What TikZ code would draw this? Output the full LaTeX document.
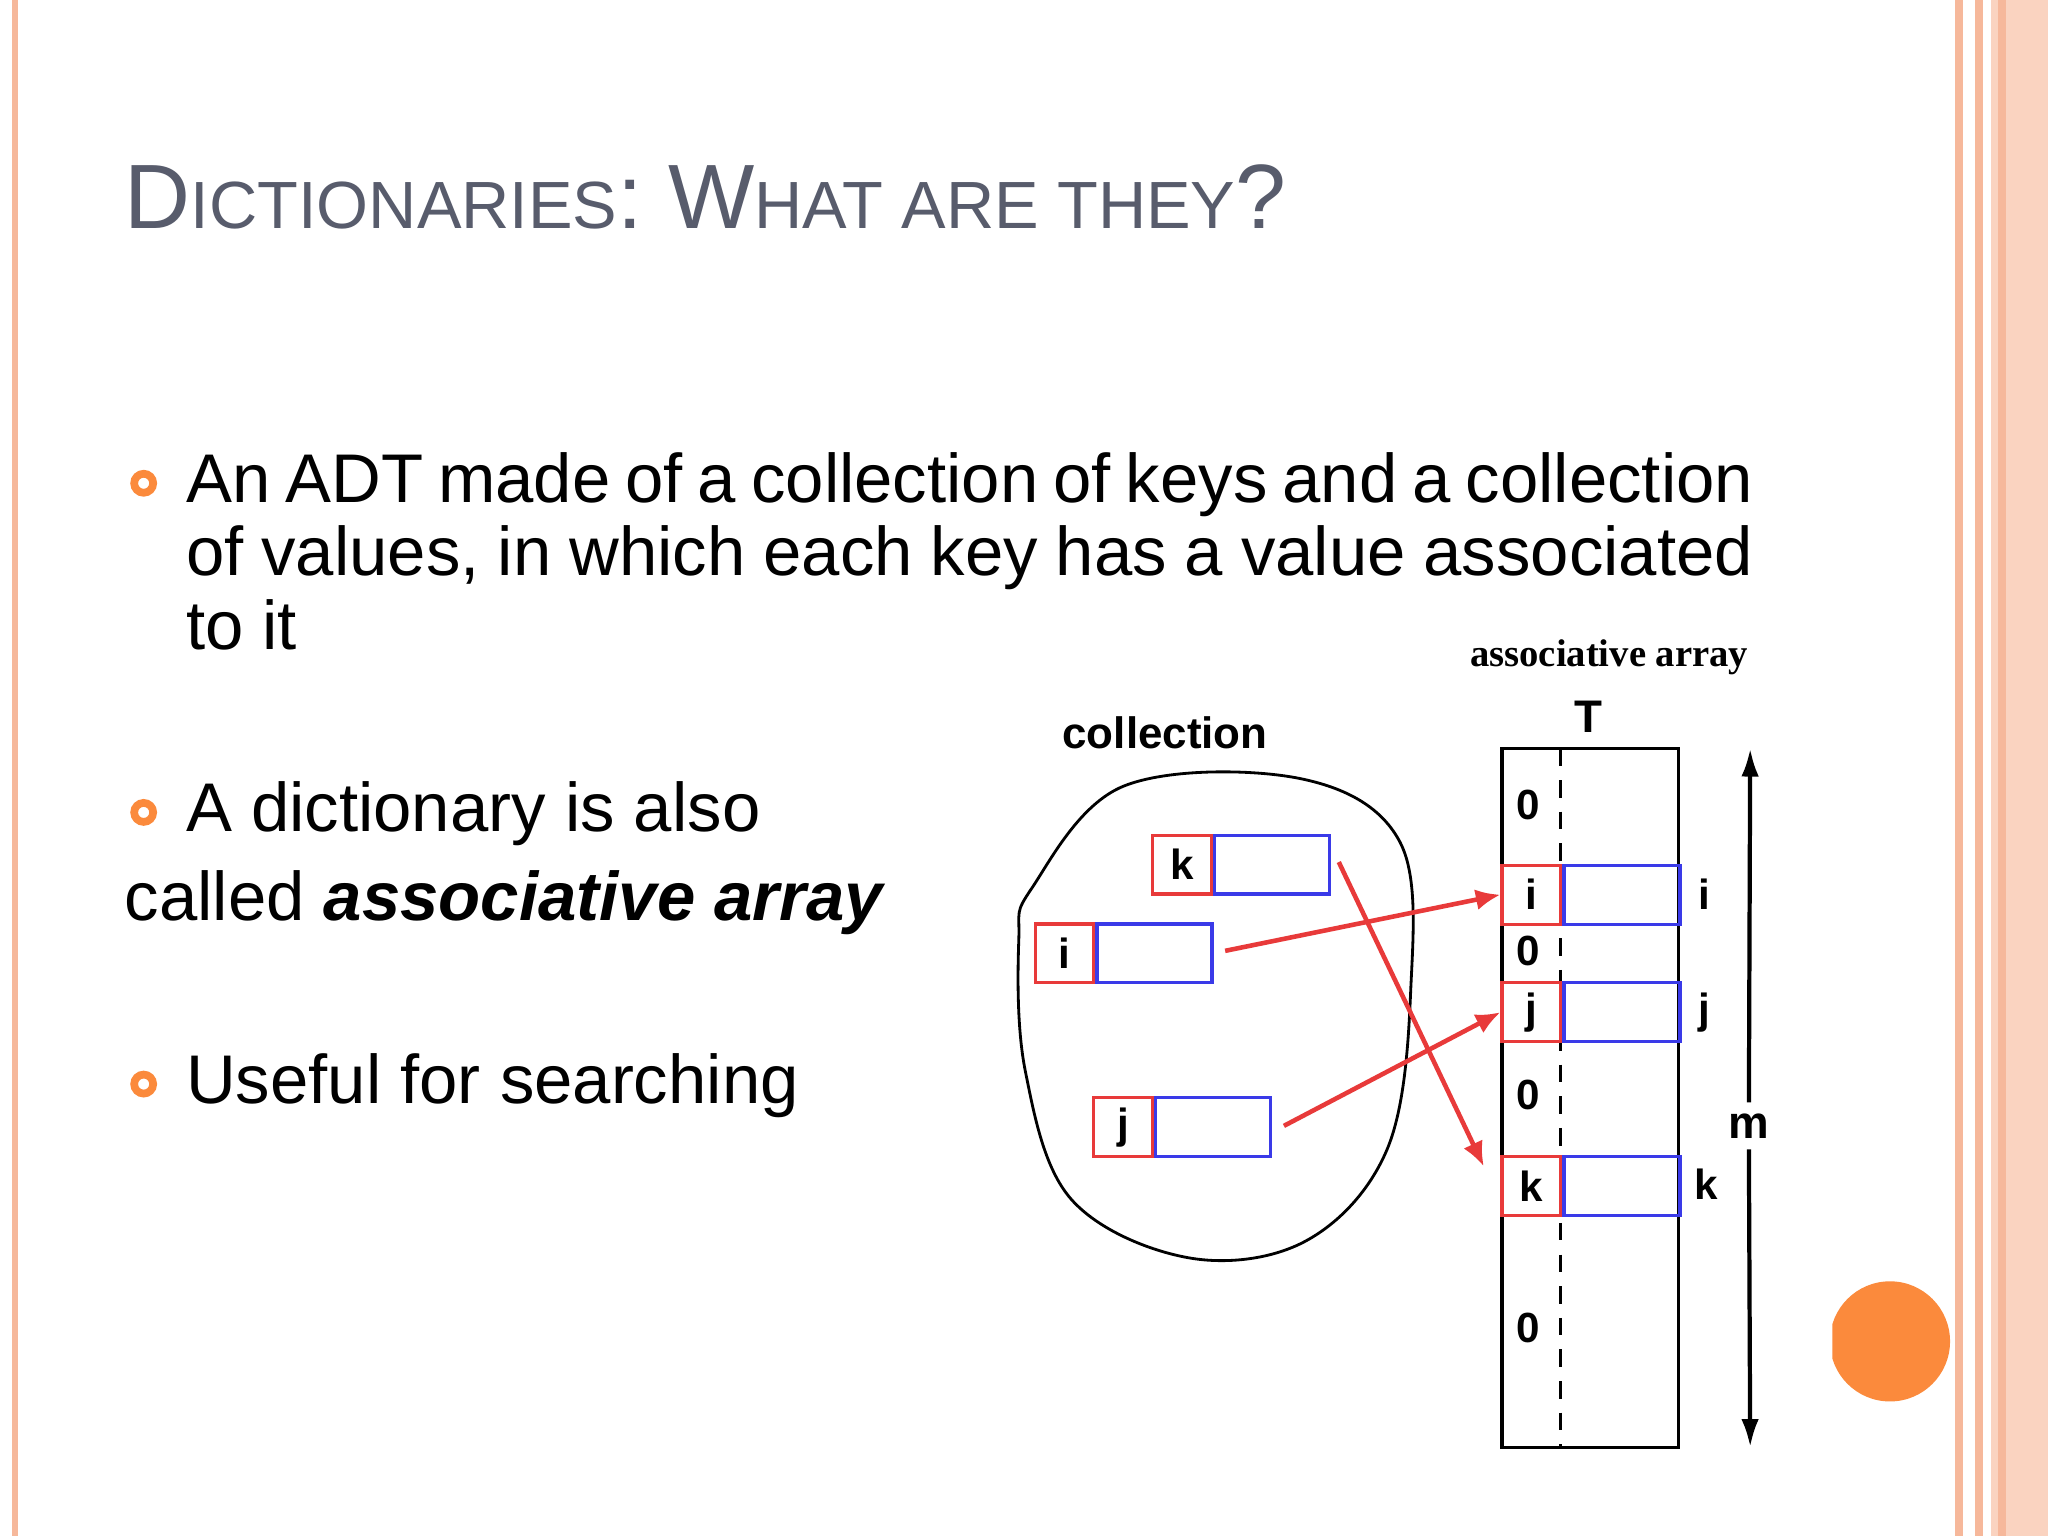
\documentclass[tikz,border=0pt]{standalone}
\usepackage{fontspec}
\setmainfont{Liberation Sans}
\newfontfamily\serifbold{Liberation Serif}
\usetikzlibrary{arrows.meta}
\definecolor{peach}{HTML}{F6B89B}
\definecolor{peachlight}{HTML}{FAD3C0}
\definecolor{titlegray}{HTML}{585C6C}
\definecolor{dotorange}{HTML}{FB8A3C}
\definecolor{keyblue}{HTML}{3A3AE8}
\definecolor{keyred}{HTML}{E83A3A}
\tikzset{
  bullet/.style={circle,draw=dotorange,line width=2.2pt,inner sep=0pt,minimum size=0.19cm},
  body/.style={font=\fontsize{19.6}{20.8}\selectfont,inner sep=0pt},
  keycell/.style={draw=keyred,line width=0.9pt,minimum width=0.588cm,minimum height=0.588cm,inner sep=0pt,font=\fontsize{12}{12}\selectfont\bfseries},
  valcell/.style={draw=keyblue,line width=0.9pt,minimum height=0.588cm,inner sep=0pt},
  zero/.style={font=\fontsize{12}{12}\selectfont\bfseries,inner sep=0pt},
  link/.style={keyred,line width=1.3pt,-{Latex[length=7pt,width=6pt]}}
}
\begin{document}
\begin{tikzpicture}[x=0.013061cm,y=-0.013061cm]
  \useasboundingbox (0,0) rectangle (1568,1176);
  % page border
  \fill[white] (0,0) rectangle (1568,1176);
  \fill[peach] (9,0) rectangle (14,1176);
  \fill[peach] (1497,0) rectangle (1503,1176);
  \fill[peach] (1512,0) rectangle (1518,1176);
  \fill[peachlight] (1524,0) rectangle (1568,1176);
  \fill[peach] (1530,0) rectangle (1536,1176);
  \begin{scope}
    \clip (1403,900) rectangle (1568,1176);
    \fill[dotorange] (1447,1027) circle (46);
  \end{scope}
  % title
  \node[anchor=base west,inner sep=0pt,text=titlegray] (title) at (95,175)
    {\fontsize{26}{26}\selectfont D\fontsize{19}{19}\selectfont ICTIONARIES\fontsize{26}{26}\selectfont: W\fontsize{19}{19}\selectfont HAT ARE THEY\fontsize{26}{26}\selectfont ?};
  % bullets
  \node[bullet] (b1) at (110,370) {};
  \node[bullet] (b2) at (110,622) {};
  \node[bullet] (b3) at (110,830) {};
  \node[body,anchor=base west,text width=15.67cm,align=justify] (t1) at (142,385)
    {\hyphenpenalty=10000\exhyphenpenalty=10000 An ADT made of a collection of keys and a collection of values, in which each key has a value associated to it};
  \node[body,anchor=base west] (t2) at (142,637) {A dictionary is also};
  \node[body,anchor=base west] (t2b) at (95,705) {called \textbf{\textit{associative array}}};
  \node[body,anchor=base west] (t3) at (142,845) {Useful for searching};
  % collection
  \node[font=\fontsize{12.5}{12.5}\selectfont\bfseries] (coll) at (892,561) {collection};
  \draw[line width=0.8pt] plot[smooth cycle,tension=0.6] coordinates
    {(790,680) (860,602) (995,596) (1072,645) (1080,760) (1062,880) (1000,950) (910,963) (820,918) (785,820) (780,720)};
  \node[keycell] (ck) at (905,662) {k};
  \node[valcell,minimum width=1.15cm,anchor=west] (cvk) at (ck.east) {};
  \node[keycell] (ci) at (815,730) {i};
  \node[valcell,minimum width=1.15cm,anchor=west] (cvi) at (ci.east) {};
  \node[keycell] (cj) at (860,863) {j};
  \node[valcell,minimum width=1.15cm,anchor=west] (cvj) at (cj.east) {};
  % table T
  \node[font=\serifbold\fontsize{11}{11}\selectfont\bfseries] (aa) at (1232,503) {associative array};
  \node[font=\fontsize{13}{13}\selectfont\bfseries] (T) at (1216,549) {T};
  \draw[line width=0.9pt] (1150,573) rectangle (1285,1108);
  \draw[line width=0.9pt,dash pattern=on 5pt off 4pt] (1195,573) -- (1195,1108);
  \node[keycell] (ti) at (1172.5,685) {i};
  \node[valcell,minimum width=1.16cm,anchor=west] (tvi) at (ti.east) {};
  \node[keycell] (tj) at (1172.5,775) {j};
  \node[valcell,minimum width=1.16cm,anchor=west] (tvj) at (tj.east) {};
  \node[keycell] (tk) at (1172.5,908) {k};
  \node[valcell,minimum width=1.16cm,anchor=west] (tvk) at (tk.east) {};
  \node[zero] (z1) at (1170,616) {0};
  \node[zero] (z2) at (1170,728) {0};
  \node[zero] (z3) at (1170,838) {0};
  \node[zero] (z4) at (1170,1017) {0};
  \node[zero] (li) at (1305,685) {i};
  \node[zero] (lj) at (1305,775) {j};
  \node[zero] (lk) at (1306,907) {k};
  \node[zero,font=\fontsize{13}{13}\selectfont\bfseries,inner sep=3pt] (lm) at (1339,862) {m};
  \coordinate (mtop) at (1340,573);
  \coordinate (mbot) at (1340,1108);
  \draw[line width=1.2pt,-{Latex[length=8pt,width=5pt]}] (lm.north) -- (mtop);
  \draw[line width=1.2pt,-{Latex[length=8pt,width=5pt]}] (lm.south) -- (mbot);
  % links
  \coordinate (si) at (938,728);
  \coordinate (sj) at (983,862);
  \coordinate (sk) at (1025,660);
  \coordinate (ek) at (1136,893);
  \draw[link] (si) -- (ti.west);
  \draw[link] (sj) -- (tj.west);
  \draw[link] (sk) -- (ek);
\end{tikzpicture}
\end{document}
